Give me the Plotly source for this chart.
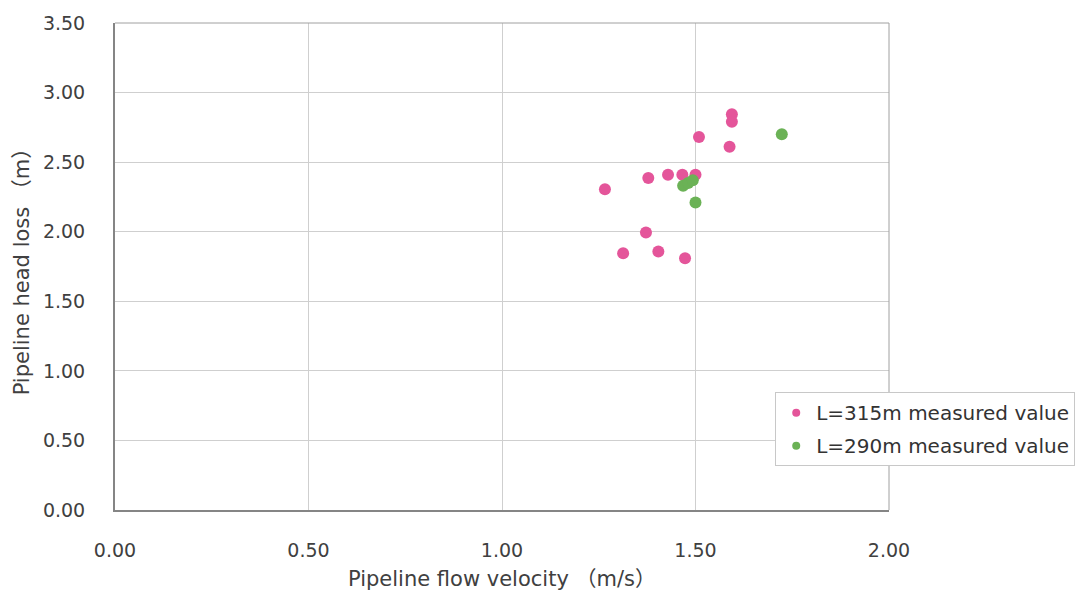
import plotly.graph_objects as go

# Measured pipeline data: flow velocity (m/s) vs head loss (m)
v_315 = [1.594, 1.594, 1.509, 1.588, 1.378, 1.429, 1.466, 1.500, 1.266, 1.372, 1.313, 1.404, 1.473]
h_315 = [2.845, 2.790, 2.680, 2.610, 2.386, 2.410, 2.410, 2.410, 2.305, 1.995, 1.845, 1.857, 1.810]

v_290 = [1.723, 1.468, 1.481, 1.493, 1.500]
h_290 = [2.700, 2.330, 2.350, 2.370, 2.210]

x_ticks = [0, 0.5, 1.0, 1.5, 2.0]
y_ticks = [0, 0.5, 1.0, 1.5, 2.0, 2.5, 3.0, 3.5]

series_names = ["L=315m measured value", "L=290m measured value"]
series_colors = ["#e4559a", "#6bb256"]

font_family = "DejaVu Sans, Noto Sans CJK JP, sans-serif"
text_color = "#404040"

fig = go.Figure()
for xs, ys, name, color in [(v_315, h_315, series_names[0], series_colors[0]),
                            (v_290, h_290, series_names[1], series_colors[1])]:
    fig.add_trace(go.Scatter(
        x=xs, y=ys, mode="markers", name=name, showlegend=False,
        marker=dict(color=color, size=12, line=dict(width=0)),
    ))
    # smaller legend swatch
    fig.add_trace(go.Scatter(
        x=[None], y=[None], mode="markers", name=name, legendgroup=name,
        marker=dict(color=color, size=8, line=dict(width=0)),
    ))

# plot frame: lighter top/right edges
fig.add_shape(type="line", xref="paper", yref="paper", x0=0, x1=1, y0=1, y1=1,
              line=dict(color="#a0a0a0", width=1))
fig.add_shape(type="line", xref="paper", yref="paper", x0=1, x1=1, y0=0, y1=1,
              line=dict(color="#a0a0a0", width=1))

fig.update_layout(
    width=1090, height=605,
    margin=dict(l=115, r=201, t=20, b=95),
    paper_bgcolor="white", plot_bgcolor="white",
    font=dict(family=font_family, size=19, color=text_color),
    showlegend=True,
    legend=dict(
        x=0.853, y=0.242, xanchor="left", yanchor="top",
        bgcolor="white", bordercolor="#c8c8c8", borderwidth=1,
        font=dict(size=20, color="#333333"),
        itemsizing="trace", tracegroupgap=4, itemwidth=30,
    ),
    xaxis=dict(
        range=[0, 2], tickvals=x_ticks, ticktext=[f"{t:.2f}" for t in x_ticks],
        showgrid=True, gridcolor="#cfcfcf", gridwidth=1,
        showline=True, linecolor="#858585", linewidth=2,
        zeroline=False, ticks="", ticklabelstandoff=22,
        tickfont=dict(size=19, color=text_color),
        title=dict(text="Pipeline flow velocity （m/s）", font=dict(size=21, color=text_color), standoff=12),
    ),
    yaxis=dict(
        range=[0, 3.5], tickvals=y_ticks, ticktext=[f"{t:.2f}" for t in y_ticks],
        showgrid=True, gridcolor="#cfcfcf", gridwidth=1,
        showline=True, linecolor="#858585", linewidth=2,
        zeroline=False, ticks="", ticklabelstandoff=24,
        tickfont=dict(size=19, color=text_color),
        title=dict(text="Pipeline head loss （m）", font=dict(size=21, color=text_color), standoff=8),
    ),
)

fig.write_html("out.html")
